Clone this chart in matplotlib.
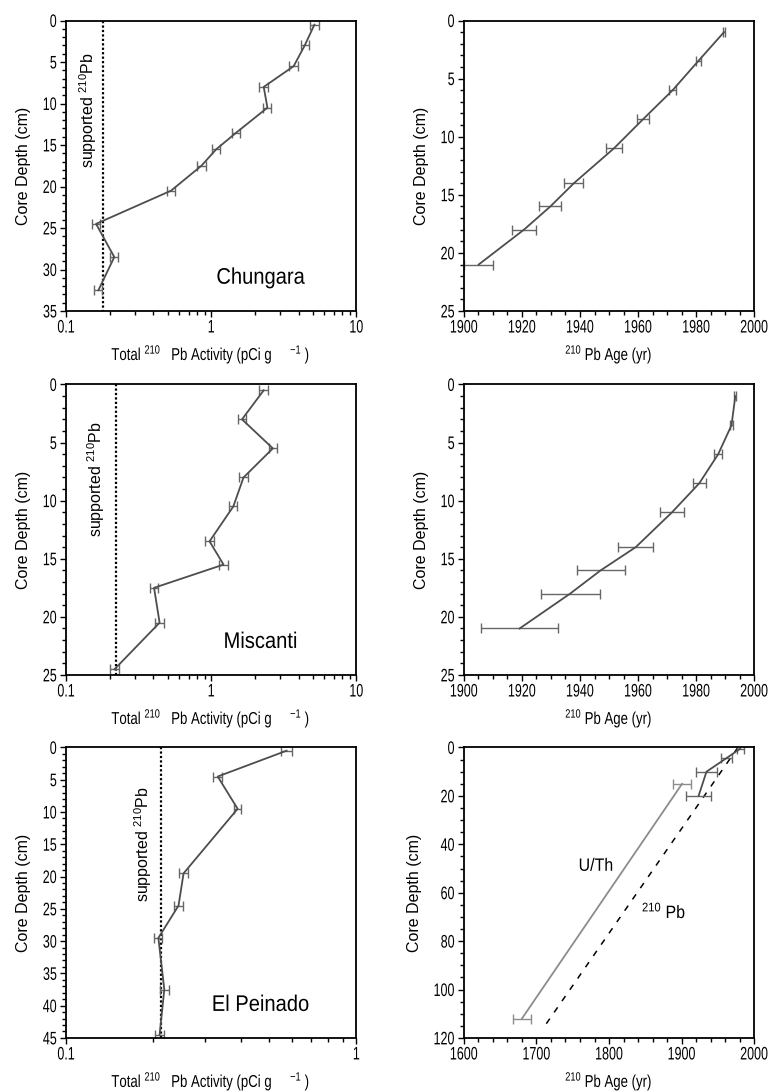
import matplotlib
matplotlib.use("Agg")
import matplotlib.pyplot as plt
from matplotlib import ticker
from matplotlib.patheffects import AbstractPathEffect
from matplotlib.transforms import Affine2D

plt.rcParams['font.family'] = ['Liberation Sans', 'DejaVu Sans']
plt.rcParams['mathtext.default'] = 'regular'

# --- Chungara ---
chu_depth = [0.5, 3, 5.5, 8, 10.5, 13.5, 15.5, 17.5, 20.5, 24.5, 28.5, 32.5]
chu_act = [5.14, 4.41, 3.70, 2.30, 2.44, 1.49, 1.085, 0.856, 0.529, 0.161, 0.215, 0.167]
chu_act_err = [0.35, 0.28, 0.24, 0.15, 0.16, 0.10, 0.07, 0.06, 0.035, 0.011, 0.014, 0.011]
chu_supported = 0.18
chu_age_depth = [1, 3.5, 6, 8.5, 11, 14, 16, 18, 21]
chu_age = [1989.6, 1980.7, 1971.9, 1961.7, 1951.7, 1937.9, 1929.8, 1920.7, 1905.1]
chu_age_err = [0.4, 0.9, 1.3, 1.9, 2.6, 3.3, 3.8, 4.1, 5.0]

# --- Miscanti ---
mis_depth = [0.5, 3, 5.5, 8, 10.5, 13.5, 15.5, 17.5, 20.5, 24.5]
mis_act = [2.30, 1.63, 2.66, 1.67, 1.42, 0.974, 1.216, 0.404, 0.441, 0.216]
mis_act_err = [0.15, 0.11, 0.17, 0.11, 0.09, 0.065, 0.08, 0.026, 0.029, 0.014]
mis_supported = 0.221
mis_age_depth = [1, 3.5, 6, 8.5, 11, 14, 16, 18, 21]
mis_age = [1993.5, 1992.2, 1987.6, 1981.1, 1971.7, 1959.2, 1947.1, 1936.6, 1919.2]
mis_age_err = [0.3, 0.6, 1.3, 2.2, 4.1, 6.1, 8.3, 10.2, 13.3]

# --- El Peinado ---
pei_depth = [0.5, 4.5, 9.5, 19.5, 24.5, 29.5, 37.5, 44.5]
pei_act = [0.575, 0.333, 0.390, 0.254, 0.244, 0.208, 0.218, 0.210]
pei_act_err = [0.025, 0.012, 0.011, 0.0085, 0.008, 0.0066, 0.0074, 0.0068]
pei_supported = 0.213
pei_pb_depth = [0.5, 4.5, 10, 20]
pei_pb_age = [1980.7, 1961.4, 1934.3, 1923.4]
pei_pb_err = [4.6, 7.8, 14.3, 17.2]
pei_uth_depth = [15, 112]
pei_uth_age = [1900.7, 1680]
pei_uth_err = [12.9, 12.9]
pei_pb_trend_depth = [0, 116.7]
pei_pb_trend_age = [1977.5, 1707.6]

LINE = '#4d4d4d'
ERR = '#666666'
LIGHT = '#8c8c8c'

act_label = r"Total $^{210}$   Pb Activity (pCi g     $^{-1}$ )"
age_label = r"$^{210}$ Pb Age (yr)"


class Stretch(AbstractPathEffect):
    # make glyphs taller: the original uses a tall condensed face
    def __init__(self, sy, anchor='center'):
        super().__init__()
        self.sy = sy
        self.anchor = anchor

    def draw_path(self, renderer, gc, tpath, affine, rgbFace=None):
        ext = tpath.get_extents()
        cy = ext.y1 if self.anchor == 'top' else (ext.y0 + ext.y1) / 2
        st = Affine2D().translate(0, -cy).scale(1, self.sy).translate(0, cy)
        renderer.draw_path(gc, tpath, st + affine, rgbFace)


def style_axis(ax, xlabel):
    for s in ax.spines.values():
        s.set_linewidth(1.3)
    ax.tick_params(which='both', direction='out', top=False, right=False,
                   labelsize=9, width=1.0)
    ax.tick_params(which='major', length=4.5, pad=1.7)
    ax.tick_params(which='minor', length=2.8)
    ax.tick_params(axis='y', which='major', pad=2.2)
    ax.set_ylabel("Core Depth (cm)", fontsize=11.5, labelpad=8.5)
    ax.set_xlabel(xlabel, fontsize=9.5, labelpad=10)
    ax.xaxis.label.set_path_effects([Stretch(1.3)])
    for lbl in ax.get_xticklabels():
        lbl.set_path_effects([Stretch(1.45, 'top')])
    for lbl in ax.get_yticklabels():
        lbl.set_path_effects([Stretch(1.45)])


def activity_panel(ax, act, depth, err, supported, name, xmax, ymax, sup_pos):
    ax.set_xscale('log')
    ax.plot([supported, supported], [0, ymax], color='black', lw=1.6, ls=(0, (1, 1)))
    ax.errorbar(act, depth, xerr=err, color=LINE, lw=1.3, ecolor=ERR,
                elinewidth=1.0, capsize=3.5, capthick=1.0)
    ax.set_xlim(0.1, xmax)
    ax.set_ylim(ymax, 0)
    ax.yaxis.set_major_locator(ticker.MultipleLocator(5))
    ax.yaxis.set_minor_locator(ticker.MultipleLocator(1))
    ax.xaxis.set_major_formatter(ticker.FuncFormatter(lambda v, p: f'{v:g}'))
    ax.xaxis.set_minor_formatter(ticker.NullFormatter())
    ax.text(sup_pos[0], sup_pos[1], r"supported $^{210}$Pb", rotation=90,
            transform=ax.transAxes, ha='center', va='center', fontsize=11.5)
    t = ax.text(0.67, 0.115, name, transform=ax.transAxes, ha='center',
                va='center', fontsize=14.5)
    t.set_path_effects([Stretch(1.12)])
    style_axis(ax, act_label)


def age_panel(ax, age, depth, err):
    ax.errorbar(age, depth, xerr=err, color=LINE, lw=1.3, ecolor=ERR,
                elinewidth=1.0, capsize=3.5, capthick=1.0)
    ax.set_xlim(1900, 2000)
    ax.set_ylim(25, 0)
    ax.xaxis.set_major_locator(ticker.MultipleLocator(20))
    ax.xaxis.set_minor_locator(ticker.MultipleLocator(5))
    ax.yaxis.set_major_locator(ticker.MultipleLocator(5))
    ax.yaxis.set_minor_locator(ticker.MultipleLocator(1))
    style_axis(ax, age_label)


fig = plt.figure(figsize=(7.68, 10.92), dpi=100)
W = 0.378
H = 0.2660
lefts = [0.086, 0.604]
bottoms = [0.7152, 0.3819, 0.0495]

ax1 = fig.add_axes([lefts[0], bottoms[0], W, H])
activity_panel(ax1, chu_act, chu_depth, chu_act_err, chu_supported,
               "Chungara", 10, 35, (0.076, 0.69))
ax2 = fig.add_axes([lefts[1], bottoms[0], W, H])
age_panel(ax2, chu_age, chu_age_depth, chu_age_err)

ax3 = fig.add_axes([lefts[0], bottoms[1], W, H])
activity_panel(ax3, mis_act, mis_depth, mis_act_err, mis_supported,
               "Miscanti", 10, 25, (0.103, 0.676))
ax4 = fig.add_axes([lefts[1], bottoms[1], W, H])
age_panel(ax4, mis_age, mis_age_depth, mis_age_err)

ax5 = fig.add_axes([lefts[0], bottoms[2], W, H])
activity_panel(ax5, pei_act, pei_depth, pei_act_err, pei_supported,
               "El Peinado", 1, 45, (0.266, 0.666))

ax6 = fig.add_axes([lefts[1], bottoms[2], W, H])
ax6.errorbar(pei_uth_age, pei_uth_depth, xerr=pei_uth_err, color=LIGHT, lw=1.3,
             ecolor=LIGHT, elinewidth=1.0, capsize=3.5, capthick=1.0)
pb_trend, = ax6.plot(pei_pb_trend_age, pei_pb_trend_depth, color='black', lw=1.1)
pb_trend.set_dashes((4, 5))
ax6.errorbar(pei_pb_age, pei_pb_depth, xerr=pei_pb_err, color=LINE, lw=1.3,
             ecolor=ERR, elinewidth=1.0, capsize=3.5, capthick=1.0)
t1 = ax6.text(1782, 48.8, "U/Th", ha='center', va='center', fontsize=11.5)
t2 = ax6.text(1876, 67.5, r"$^{210}$ Pb", ha='center', va='center', fontsize=11.5)
for t in (t1, t2):
    t.set_path_effects([Stretch(1.12)])
ax6.set_xlim(1600, 2000)
ax6.set_ylim(120, 0)
ax6.xaxis.set_major_locator(ticker.MultipleLocator(100))
ax6.xaxis.set_minor_locator(ticker.MultipleLocator(20))
ax6.yaxis.set_major_locator(ticker.MultipleLocator(20))
ax6.yaxis.set_minor_locator(ticker.MultipleLocator(5))
style_axis(ax6, age_label)

fig.savefig("out.png", dpi=100)
